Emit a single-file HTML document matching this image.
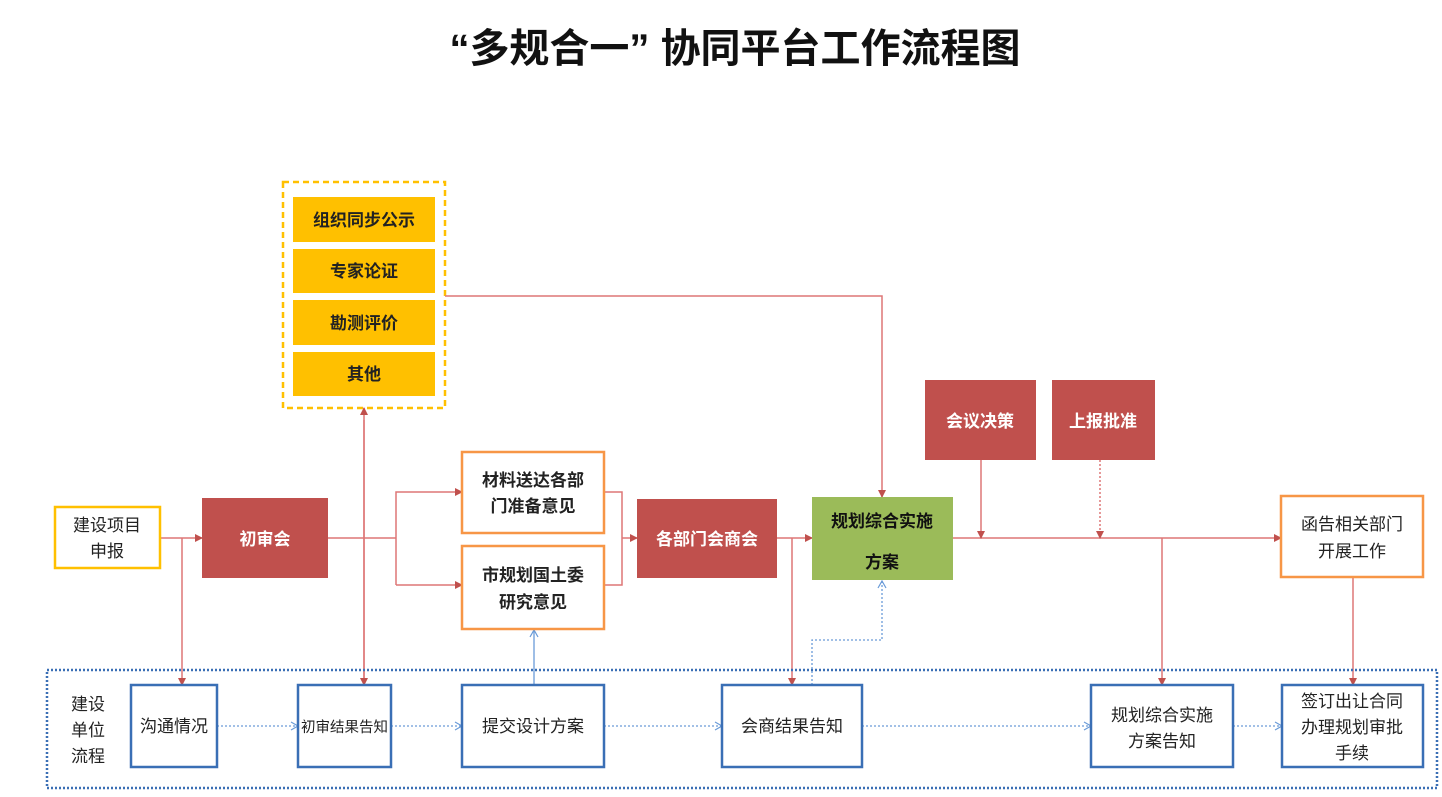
<!DOCTYPE html>
<html><head><meta charset="utf-8"><style>
body{margin:0;background:#fff;}
svg text{font-family:"Liberation Sans","Noto Sans CJK SC",sans-serif;}
</style></head><body>
<svg width="1442" height="792" viewBox="0 0 1442 792" xmlns="http://www.w3.org/2000/svg">
<defs>
<marker id="r" markerWidth="8" markerHeight="8" refX="7" refY="4" orient="auto" markerUnits="userSpaceOnUse"><path d="M0,0 L8,4 L0,8 z" fill="#C0504D"/></marker>
<marker id="b" markerWidth="10" markerHeight="10" refX="8" refY="5" orient="auto" markerUnits="userSpaceOnUse"><path d="M1,1 L8,5 L1,9" fill="none" stroke="#6A9BD8" stroke-width="1.2"/></marker>
</defs>
<text x="735" y="62" text-anchor="middle" font-size="40" font-weight="bold" fill="#111">“多规合一” 协同平台工作流程图</text>

<rect x="283" y="182" width="162" height="226" fill="none" stroke="#FFC000" stroke-width="2.5" stroke-dasharray="6,4"/>
<g fill="#FFC000"><rect x="293" y="197" width="142" height="45"/><rect x="293" y="249" width="142" height="44"/><rect x="293" y="300" width="142" height="45"/><rect x="293" y="352" width="142" height="44"/></g>
<g font-size="17" font-weight="bold" text-anchor="middle" fill="#222">
<text x="364" y="226">组织同步公示</text><text x="364" y="277">专家论证</text><text x="364" y="329">勘测评价</text><text x="364" y="380">其他</text></g>

<g stroke="#D77" stroke-width="1.5" fill="none">
<line x1="160" y1="538" x2="202" y2="538" marker-end="url(#r)"/>
<line x1="182" y1="538" x2="182" y2="685" marker-end="url(#r)"/>
<polyline points="328,538 396,538"/>
<polyline points="396,585 396,492 462,492" marker-end="url(#r)"/>
<polyline points="396,585 462,585" marker-end="url(#r)"/>
<line x1="364" y1="685" x2="364" y2="408" marker-end="url(#r)"/>
<line x1="364" y1="420" x2="364" y2="685" marker-end="url(#r)"/>
<polyline points="604,492 622,492 622,585 604,585"/>
<line x1="622" y1="538" x2="637" y2="538" marker-end="url(#r)"/>
<line x1="777" y1="538" x2="812" y2="538" marker-end="url(#r)"/>
<line x1="792" y1="538" x2="792" y2="685" marker-end="url(#r)"/>
<polyline points="445,296 882,296 882,497" marker-end="url(#r)"/>
<line x1="953" y1="538" x2="1281" y2="538" marker-end="url(#r)"/>
<line x1="981" y1="460" x2="981" y2="538" marker-end="url(#r)"/>
<line x1="1100" y1="460" x2="1100" y2="538" stroke-dasharray="2,2" marker-end="url(#r)"/>
<line x1="1162" y1="538" x2="1162" y2="685" marker-end="url(#r)"/>
<line x1="1353" y1="577" x2="1353" y2="685" marker-end="url(#r)"/>
</g>

<rect x="47" y="670" width="1390" height="118" fill="none" stroke="#3A6FB5" stroke-width="2.5" stroke-dasharray="2,2"/>
<g stroke="#6A9BD8" stroke-width="1.3" fill="none">
<line x1="534" y1="685" x2="534" y2="630" marker-end="url(#b)"/>
<polyline points="812,685 812,640 882,640 882,581" stroke-dasharray="2,2" marker-end="url(#b)"/>
<g stroke-dasharray="2,2">
<line x1="217" y1="726" x2="298" y2="726" marker-end="url(#b)"/>
<line x1="391" y1="726" x2="462" y2="726" marker-end="url(#b)"/>
<line x1="604" y1="726" x2="722" y2="726" marker-end="url(#b)"/>
<line x1="862" y1="726" x2="1091" y2="726" marker-end="url(#b)"/>
<line x1="1233" y1="726" x2="1282" y2="726" marker-end="url(#b)"/>
</g></g>

<rect x="55" y="507" width="105" height="61" fill="#fff" stroke="#FFC000" stroke-width="2.5"/>
<rect x="202" y="498" width="126" height="80" fill="#C0504D"/>
<rect x="462" y="452" width="142" height="81" fill="#fff" stroke="#F79646" stroke-width="2.5"/>
<rect x="462" y="546" width="142" height="83" fill="#fff" stroke="#F79646" stroke-width="2.5"/>
<rect x="637" y="499" width="140" height="79" fill="#C0504D"/>
<rect x="812" y="497" width="141" height="83" fill="#9BBB59"/>
<rect x="925" y="380" width="111" height="80" fill="#C0504D"/>
<rect x="1052" y="380" width="103" height="80" fill="#C0504D"/>
<rect x="1281" y="496" width="142" height="81" fill="#fff" stroke="#F79646" stroke-width="2.5"/>
<g font-size="17" text-anchor="middle">
<text x="107" y="531" fill="#222">建设项目</text><text x="107" y="557" fill="#222">申报</text>
<text x="265" y="545" fill="#fff" font-weight="bold">初审会</text>
<text x="533" y="486" fill="#222" font-weight="bold">材料送达各部</text><text x="533" y="512" fill="#222" font-weight="bold">门准备意见</text>
<text x="533" y="581" fill="#222" font-weight="bold">市规划国土委</text><text x="533" y="608" fill="#222" font-weight="bold">研究意见</text>
<text x="707" y="545" fill="#fff" font-weight="bold">各部门会商会</text>
<text x="882" y="527" fill="#111" font-weight="bold">规划综合实施</text><text x="882" y="568" fill="#111" font-weight="bold">方案</text>
<text x="980" y="427" fill="#fff" font-weight="bold">会议决策</text>
<text x="1103" y="427" fill="#fff" font-weight="bold">上报批准</text>
<text x="1352" y="530" fill="#222">函告相关部门</text><text x="1352" y="557" fill="#222">开展工作</text>
</g>

<g fill="#fff" stroke="#3A6FB5" stroke-width="2.5">
<rect x="131" y="685" width="86" height="82"/><rect x="298" y="685" width="93" height="82"/>
<rect x="462" y="685" width="142" height="82"/><rect x="722" y="685" width="140" height="82"/>
<rect x="1091" y="685" width="142" height="82"/><rect x="1282" y="685" width="141" height="82"/>
</g>
<g font-size="17" text-anchor="middle" fill="#222">
<text x="88" y="710">建设</text><text x="88" y="736">单位</text><text x="88" y="762">流程</text>
<text x="174" y="732">沟通情况</text><text x="344.5" y="732" font-size="14.5">初审结果告知</text>
<text x="533" y="732">提交设计方案</text><text x="792" y="732">会商结果告知</text>
<text x="1162" y="721">规划综合实施</text><text x="1162" y="747">方案告知</text>
<text x="1352" y="707">签订出让合同</text><text x="1352" y="733">办理规划审批</text><text x="1352" y="759">手续</text>
</g>
</svg>
</body></html>
